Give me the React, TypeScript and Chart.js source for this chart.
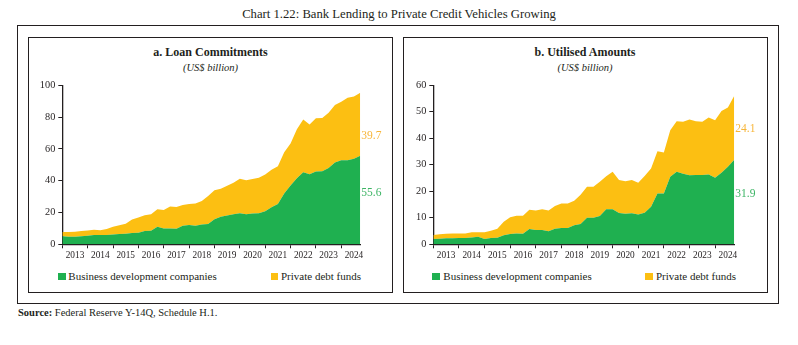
import React, { useEffect, useRef } from "react";
import { Chart, registerables } from "chart.js";

Chart.register(...registerables);

// ---------- data ----------
const YEARS = ["2013", "2014", "2015", "2016", "2017", "2018", "2019", "2020", "2021", "2022", "2023", "2024"];
const QUARTERS = YEARS.flatMap((y) => ["Q1", "Q2", "Q3", "Q4"].map((q) => `${y} ${q}`));

// a. Loan commitments (US$ billion)
const LOAN_BDC = [
  5.0, 4.8, 4.8, 5.0, 5.4, 5.8, 5.8, 5.8, 6.2, 6.4,
  6.7, 7.1, 7.3, 8.3, 8.5, 11.0, 10.0, 10.0, 9.8, 11.6,
  12.1, 11.6, 12.5, 12.7, 15.8, 17.3, 18.1, 18.9, 19.5, 18.9,
  19.3, 19.5, 20.8, 23.3, 25.4, 32.0, 37.0, 41.5, 45.3, 44.0,
  45.7, 45.9, 48.0, 51.4, 52.8, 52.8, 53.8, 55.6,
];
const LOAN_PDF = [
  2.7, 2.9, 3.1, 3.3, 3.3, 3.3, 3.1, 3.8, 4.8, 5.5,
  6.2, 8.5, 9.5, 10.0, 10.4, 11.0, 11.6, 13.7, 13.7, 13.1,
  13.3, 14.0, 14.7, 17.7, 18.1, 17.6, 18.7, 19.8, 21.7, 21.4,
  21.7, 22.3, 23.1, 23.5, 23.7, 25.8, 26.4, 30.8, 33.1, 31.3,
  33.5, 33.5, 34.7, 36.1, 36.8, 39.3, 39.1, 39.7,
];

// b. Utilised amounts (US$ billion)
const UTIL_BDC = [
  2.0, 2.1, 2.3, 2.3, 2.4, 2.4, 2.6, 2.8, 2.0, 2.4,
  2.5, 3.4, 3.9, 4.1, 4.0, 5.8, 5.4, 5.4, 4.9, 5.9,
  6.1, 6.1, 7.2, 7.7, 10.0, 10.0, 10.7, 13.2, 13.2, 11.8,
  11.5, 11.7, 11.2, 11.9, 14.2, 19.2, 19.2, 25.5, 27.4, 26.6,
  26.0, 26.1, 26.1, 26.3, 25.1, 27.0, 29.2, 31.9,
];
const UTIL_PDF = [
  1.5, 1.7, 1.7, 1.8, 1.7, 1.7, 1.9, 1.7, 2.5, 2.7,
  3.4, 5.1, 6.3, 6.7, 6.8, 7.2, 7.3, 7.8, 7.8, 8.5,
  9.3, 9.3, 9.2, 11.0, 11.7, 11.7, 12.9, 12.5, 14.2, 12.4,
  12.3, 12.5, 12.0, 13.9, 14.4, 15.9, 15.4, 17.5, 19.0, 19.6,
  21.1, 20.3, 20.1, 21.5, 21.7, 23.3, 22.4, 24.1,
];

const SERIES_NAMES = ["Business development companies", "Private debt funds"];

// ---------- styles ----------
const GREEN = "#1fb050";
const GOLD = "#fcbf12";
const GREEN_TEXT = "#3cb464";
const GOLD_TEXT = "#f7b538";
const INK = "#231f20";
const FONT = "'Liberation Serif', 'Times New Roman', serif";

type PanelProps = {
  bdc: number[];
  pdf: number[];
  yMax: number;
  yStep: number;
  bdcLabelFrac: number;
  pdfLabelFrac: number;
  left: number;
  top: number;
  width: number;
  height: number;
  padRight: number;
};

function AreaChart(p: PanelProps) {
  const ref = useRef<HTMLCanvasElement | null>(null);

  useEffect(() => {
    if (!ref.current) return;
    const valueLabels = {
      id: "valueLabels",
      afterDatasetsDraw(chart: any) {
        const { ctx, chartArea } = chart;
        const y = chart.scales.y;
        const bLast = p.bdc[p.bdc.length - 1];
        const pLast = p.pdf[p.pdf.length - 1];
        ctx.save();
        ctx.font = `11.5px ${FONT}`;
        ctx.textAlign = "left";
        ctx.textBaseline = "middle";
        ctx.fillStyle = GREEN_TEXT;
        ctx.fillText(bLast.toFixed(1), chartArea.right + 1, y.getPixelForValue(bLast * p.bdcLabelFrac));
        ctx.fillStyle = GOLD_TEXT;
        ctx.fillText(pLast.toFixed(1), chartArea.right + 1, y.getPixelForValue(bLast + pLast * p.pdfLabelFrac));
        ctx.restore();
      },
    };

    const chart = new Chart(ref.current, {
      type: "line",
      data: {
        labels: QUARTERS,
        datasets: [
          {
            label: SERIES_NAMES[0],
            data: p.bdc,
            backgroundColor: GREEN,
            borderColor: GREEN,
            borderWidth: 0,
            pointRadius: 0,
            fill: "origin",
          },
          {
            label: SERIES_NAMES[1],
            data: p.pdf,
            backgroundColor: GOLD,
            borderColor: GOLD,
            borderWidth: 0,
            pointRadius: 0,
            fill: "-1",
          },
        ],
      },
      options: {
        animation: false,
        responsive: false,
        maintainAspectRatio: false,
        layout: { padding: { left: 0, right: p.padRight, top: 8.3, bottom: 0 } },
        plugins: { legend: { display: false }, tooltip: { enabled: false }, title: { display: false } },
        scales: {
          x: {
            type: "category",
            offset: false,
            grid: {
              drawOnChartArea: false,
              tickLength: 4,
              tickWidth: 1,
              tickColor: (c: any) => (c.index % 4 === 0 ? INK : "rgba(0,0,0,0)"),
            },
            border: { color: INK, width: 1.3 },
            ticks: {
              autoSkip: false,
              maxRotation: 0,
              minRotation: 0,
              padding: 2,
              color: INK,
              font: { family: FONT, size: 9.3 },
              callback: (_v: any, i: number) => (i % 4 === 2 ? YEARS[Math.floor(i / 4)] : ""),
            },
            afterFit: (s: any) => {
              s.height = 21.7;
            },
          },
          y: {
            stacked: true,
            min: 0,
            max: p.yMax,
            grid: { drawOnChartArea: false, tickLength: 4, color: INK, tickColor: INK },
            border: { color: INK, width: 1.3 },
            ticks: {
              stepSize: p.yStep,
              padding: 3,
              color: INK,
              font: { family: FONT, size: 10.3 },
            },
            afterFit: (s: any) => {
              s.width = 40.3;
            },
          },
        },
      },
      plugins: [valueLabels],
    } as any);
    return () => chart.destroy();
  }, []);

  return (
    <canvas
      ref={ref}
      width={p.width}
      height={p.height}
      style={{ position: "absolute", left: p.left, top: p.top, width: p.width, height: p.height }}
    />
  );
}

function Legend({ x1, t1, x2, t2 }: { x1: number; t1: number; x2: number; t2: number }) {
  const sq = (x: number, c: string) => (
    <div style={{ position: "absolute", left: x, top: 272.5, width: 7.5, height: 7.5, background: c }} />
  );
  const tx = (x: number, s: string) => (
    <div
      style={{
        position: "absolute",
        left: x,
        top: 269,
        lineHeight: "14px",
        fontSize: 11,
        fontFamily: FONT,
        color: INK,
        whiteSpace: "nowrap",
      }}
    >
      {s}
    </div>
  );
  return (
    <>
      {sq(x1, GREEN)}
      {tx(t1, SERIES_NAMES[0])}
      {sq(x2, GOLD)}
      {tx(t2, SERIES_NAMES[1])}
    </>
  );
}

function PanelTitle({ cx, title }: { cx: number; title: string }) {
  return (
    <>
      <div
        style={{
          position: "absolute",
          left: cx - 150,
          width: 300,
          top: 45,
          lineHeight: "15px",
          textAlign: "center",
          fontWeight: "bold",
          fontSize: 12,
          fontFamily: FONT,
          color: INK,
        }}
      >
        {title}
      </div>
      <div
        style={{
          position: "absolute",
          left: cx - 150,
          width: 300,
          top: 61,
          lineHeight: "13px",
          textAlign: "center",
          fontStyle: "italic",
          fontSize: 10.5,
          fontFamily: FONT,
          color: INK,
        }}
      >
        (US$ billion)
      </div>
    </>
  );
}

export default function App() {
  return (
    <div
      style={{
        position: "absolute",
        left: 0,
        top: 0,
        width: 798,
        height: 345,
        background: "#fff",
        overflow: "hidden",
        fontFamily: FONT,
      }}
    >
      <div
        style={{
          position: "absolute",
          left: 0,
          width: 798,
          top: 6,
          lineHeight: "16px",
          textAlign: "center",
          fontSize: 12.7,
          color: INK,
          fontFamily: FONT,
        }}
      >
        Chart 1.22: Bank Lending to Private Credit Vehicles Growing
      </div>

      {/* outer frame */}
      <div
        style={{
          position: "absolute",
          left: 16.5,
          top: 25,
          width: 762,
          height: 279,
          border: `1.7px solid ${INK}`,
          boxSizing: "border-box",
        }}
      />
      {/* panel frames */}
      <div
        style={{
          position: "absolute",
          left: 28,
          top: 37.2,
          width: 365,
          height: 255.5,
          border: `1px solid ${INK}`,
          boxSizing: "border-box",
        }}
      />
      <div
        style={{
          position: "absolute",
          left: 403.2,
          top: 37.2,
          width: 365,
          height: 255.5,
          border: `1px solid ${INK}`,
          boxSizing: "border-box",
        }}
      />

      <PanelTitle cx={210.5} title="a. Loan Commitments" />
      <PanelTitle cx={585} title="b. Utilised Amounts" />

      <AreaChart
        bdc={LOAN_BDC}
        pdf={LOAN_PDF}
        yMax={100}
        yStep={20}
        bdcLabelFrac={0.58}
        pdfLabelFrac={0.32}
        left={22}
        top={76}
        width={365}
        height={190}
        padRight={26.7}
      />
      <AreaChart
        bdc={UTIL_BDC}
        pdf={UTIL_PDF}
        yMax={60}
        yStep={10}
        bdcLabelFrac={0.59}
        pdfLabelFrac={0.48}
        left={393}
        top={76}
        width={365}
        height={190}
        padRight={23.7}
      />

      <Legend x1={58.3} t1={68.3} x2={270.5} t2={281} />
      <Legend x1={432.3} t1={443.3} x2={645} t2={656} />

      <div
        style={{
          position: "absolute",
          left: 18,
          top: 306,
          lineHeight: "14px",
          fontSize: 10.5,
          fontFamily: FONT,
          color: INK,
          whiteSpace: "nowrap",
        }}
      >
        <b>Source:</b> Federal Reserve Y-14Q, Schedule H.1.
      </div>
    </div>
  );
}
